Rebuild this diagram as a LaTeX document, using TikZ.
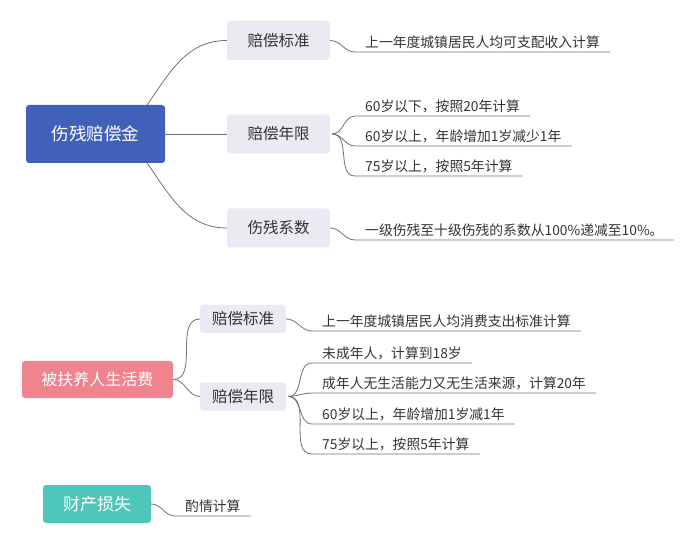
\documentclass[tikz,border=0pt]{standalone}
\usepackage{fontspec}
\setmainfont{Noto Sans CJK SC}
\usetikzlibrary{positioning}
\definecolor{blueM}{HTML}{4060BA}
\definecolor{pinkM}{HTML}{F0848E}
\definecolor{tealM}{HTML}{4EC6BA}
\definecolor{subfill}{HTML}{E9EAF2}
\definecolor{txt}{HTML}{333333}
\definecolor{wire}{HTML}{707070}

\begin{document}
\begin{tikzpicture}[x=1pt,y=-1pt]
\tikzset{M/.style={rectangle,rounded corners=3pt,text=white,inner sep=0pt}}
\tikzset{S/.style={rectangle,rounded corners=3pt,fill=subfill,text=txt,inner sep=0pt,
  minimum width=103pt,minimum height=39pt,font=\fontsize{15.5}{18}\selectfont}}
\tikzset{S2/.style={S,minimum width=86pt,minimum height=28pt}}
\tikzset{L/.style={anchor=south west,text=txt,inner xsep=10pt,inner ysep=3pt,
  font=\fontsize{13.8}{16}\selectfont}}
\tikzset{W/.style={draw=wire,line width=0.8pt}}

  \useasboundingbox (0,0) rectangle (691,545);

  % first group
  \node[M,fill=blueM,minimum width=139pt,minimum height=58pt,font=\fontsize{17.5}{20}\selectfont] (shang) at (95.5,134) {伤残赔偿金};
  \node[S] (s1) at (278.5,40.5) {赔偿标准};
  \node[S] (s2) at (278.5,134)  {赔偿年限};
  \node[S] (s3) at (278.5,228)  {伤残系数};

  \node[L] (l1) at (355,52)  {上一年度城镇居民人均可支配收入计算};
  \node[L] (l2) at (355,116) {60岁以下，按照20年计算};
  \node[L] (l3) at (355,146) {60岁以上，年龄增加1岁减少1年};
  \node[L] (l4) at (355,176) {75岁以上，按照5年计算};
  \node[L] (l5) at (355,240) {一级伤残至十级伤残的系数从100\%递减至10\%。};

  \draw[W] ([xshift=-18pt]shang.north east) to[out=55,in=180] (s1.west);
  \draw[W] (shang.east) -- (s2.west);
  \draw[W] ([xshift=-18pt]shang.south east) to[out=-55,in=180] (s3.west);

  \draw[W] (s1.east) to[out=0,in=180] (l1.south west) -- (l1.south east);
  \draw[W] ([xshift=2pt]s2.east) to[out=0,in=180] (l2.south west) -- (l2.south east);
  \draw[W] ([xshift=2pt]s2.east) to[out=0,in=180] (l3.south west) -- (l3.south east);
  \draw[W] ([xshift=2pt]s2.east) to[out=0,in=180] (l4.south west) -- (l4.south east);
  \draw[W] (s3.east) to[out=0,in=180] (l5.south west) -- (l5.south east);

  % second group
  \node[M,fill=pinkM,minimum width=151pt,minimum height=37pt,font=\fontsize{16}{19}\selectfont] (fuyang) at (97.5,379.5) {被扶养人生活费};
  \node[S2] (t1) at (243,319)   {赔偿标准};
  \node[S2] (t2) at (243,396.5) {赔偿年限};

  \node[L] (m1) at (312,331) {上一年度城镇居民人均消费支出标准计算};
  \node[L] (m2) at (312,363) {未成年人，计算到18岁};
  \node[L] (m3) at (312,393) {成年人无生活能力又无生活来源，计算20年};
  \node[L] (m4) at (312,424) {60岁以上，年龄增加1岁减1年};
  \node[L] (m5) at (312,454) {75岁以上，按照5年计算};

  \draw[W] (fuyang.east) to[out=0,in=180] (t1.west);
  \draw[W] (fuyang.east) to[out=0,in=180] (t2.west);

  \draw[W] (t1.east) to[out=0,in=180] (m1.south west) -- (m1.south east);
  \draw[W] ([xshift=2pt]t2.east) to[out=0,in=180] (m2.south west) -- (m2.south east);
  \draw[W] ([xshift=2pt]t2.east) to[out=0,in=180] (m3.south west) -- (m3.south east);
  \draw[W] ([xshift=2pt]t2.east) to[out=0,in=180] (m4.south west) -- (m4.south east);
  \draw[W] ([xshift=2pt]t2.east) to[out=0,in=180] (m5.south west) -- (m5.south east);

  % third group
  \node[M,fill=tealM,minimum width=108pt,minimum height=38pt,font=\fontsize{17}{20}\selectfont] (caichan) at (97,504) {财产损失};
  \node[L] (n1) at (175,516) {酌情计算};
  \draw[W] (caichan.east) to[out=0,in=180] (n1.south west) -- (n1.south east);
\end{tikzpicture}
\end{document}
